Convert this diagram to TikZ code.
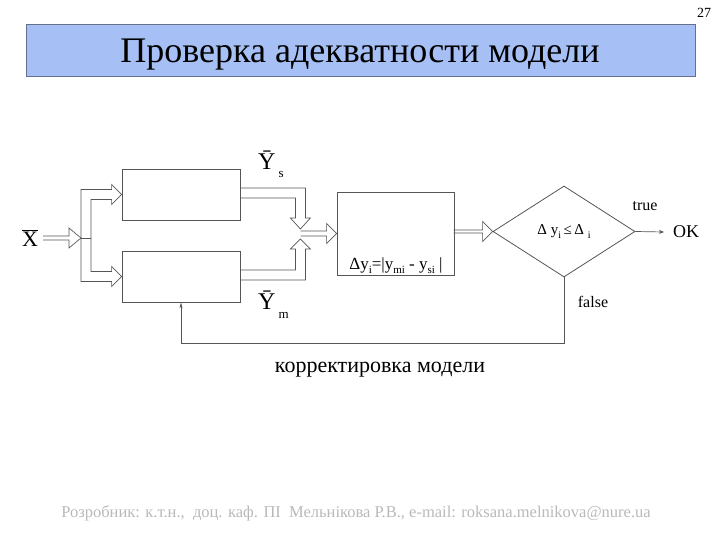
\documentclass[tikz,border=0pt]{standalone}
\usepackage{fontspec}
\setmainfont{Liberation Serif}
\usetikzlibrary{arrows.meta,calc,positioning,shapes.geometric}
\definecolor{titlefill}{RGB}{166,191,244}
\definecolor{titleedge}{RGB}{100,112,140}
\definecolor{linecol}{RGB}{85,85,85}
\definecolor{footcol}{RGB}{185,185,185}
\newcommand{\lowsub}[3]{\raisebox{-#1pt}{\fontsize{#2}{#2}\selectfont #3}}

\begin{document}
\begin{tikzpicture}[x=1pt,y=-1pt,>=Stealth,
  blk/.style={draw=linecol,line width=0.8pt,inner sep=0pt},
  pipe/.style={draw=linecol,line width=0.7pt,line join=miter},
  fs/.style={font=\fontsize{#1}{#1}\selectfont},
  lbl/.style={inner sep=0pt,anchor=base}]
\useasboundingbox (0,0) rectangle (720,540);
% header bar and page number
\node[blk,draw=titleedge,fill=titlefill,minimum width=669pt,minimum height=52pt] (title) at (360.5,50) {};
\node[fs=36] (titletxt) at (360,55) {Проверка адекватности модели};
\node[fs=14,lbl] (pgnum) at (704,18) {27};
% the two models and the comparator
\node[blk,minimum width=118pt,minimum height=51pt] (ms) at (181,194.5) {};
\node[blk,minimum width=118pt,minimum height=51pt] (mm) at (181,276.5) {};
\node[blk,minimum width=117pt,minimum height=83pt] (cmp) at (395.5,233.5) {};
\node[fs=17,lbl] (cmplbl) at (396,269) {Δy\lowsub{5}{11}{i}=|y\lowsub{5}{11}{mi} - y\lowsub{5}{11}{si} |};
% decision
\node[blk,diamond,minimum width=142pt,minimum height=91pt,fs=15] (dec) at (564,231.5) {Δ y\lowsub{3.5}{10}{i}\,≤\,Δ\ \lowsub{3.5}{10}{i}};
\node[fs=16,lbl] (truelbl) at (645,211) {true};
\node[fs=16,lbl] (falselbl) at (593,307) {false};
\node[fs=18,anchor=west,inner xsep=9pt,inner ysep=0pt] (ok) at (664,232) {OK};
% signal labels
\node[fs=22,lbl] (xin) at (30,246) {$\overline{\mbox{X}}$};
\node[fs=24,lbl,anchor=base west] (ys) at (258,170) {Ȳ\hspace{3pt}\lowsub{8}{13}{s}};
\node[fs=24,lbl,anchor=base west] (ym) at (258,309) {Ȳ\hspace{3pt}\lowsub{9}{13}{m}};
% input and fork
\coordinate (xstart) at (43,238);
\coordinate (fork) at (81,238);
\draw[pipe] ($(xstart)+(0,-2)$) -- ++(26,0) -- ++(0,-8) -- (fork) -- ++(-12,10) -- ++(0,-8) -- ++(-26,0);
\draw[pipe] (ms.west) -- ++(-10,-10) -- ++(0,5) -| (fork) |- ($(mm.west)+(-10,5)$) -- ++(0,5)
  -- (mm.west) -- ++(-10,-10) -- ++(0,5) -| ($(fork)+(10,0)$) |- ($(ms.west)+(-10,5)$) -- ++(0,5) -- cycle;
\draw[pipe] (fork) -- ++(10,0);
% outputs merging into the comparator
\draw[pipe] ($(ms.east)+(0,-6.5)$) -- ++(65,0) -- ++(0,30) -- ++(5,0) -- ++(-10,11) -- ++(-10,-11) -- ++(5,0) -- ++(0,-20) -- ++(-55,0);
\draw[pipe] ($(mm.east)+(0,3.5)$) -- ++(65,0) -- ++(0,-31) -- ++(5,0) -- ++(-10,-10) -- ++(-10,10) -- ++(5,0) -- ++(0,21) -- ++(-55,0);
\draw[pipe] ($(cmp.west)+(-36,-2.5)$) -- ++(26,0) -- ++(0,-7.5) -- (cmp.west) -- ++(-10,10) -- ++(0,-7.5) -- ++(-26,0);
\draw[pipe] ($(dec.west)+(-39,-1.5)$) -- ++(29,0) -- ++(0,-8.5) -- (dec.west) -- ++(-10,10) -- ++(0,-8.5) -- ++(-29,0);
% result and feedback loop
\draw[linecol,line width=0.7pt,-{Stealth[length=5pt,width=4pt]}] (dec.east) -- (ok.west);
\draw[linecol,line width=0.7pt,-{Stealth[length=6pt,width=3pt]}] (dec.south) -- ++(0,66) -| (mm.south);
\node[fs=22,lbl] (fblbl) at (380,372) {корректировка модели};
% footer
\node[fs=16.5,lbl,text=footcol] (footer) at (356,517) {Розробник: к.т.н.,\ \ доц. каф. ПІ\ \ Мельнікова Р.В., e-mail: roksana.melnikova@nure.ua};
\end{tikzpicture}
\end{document}
